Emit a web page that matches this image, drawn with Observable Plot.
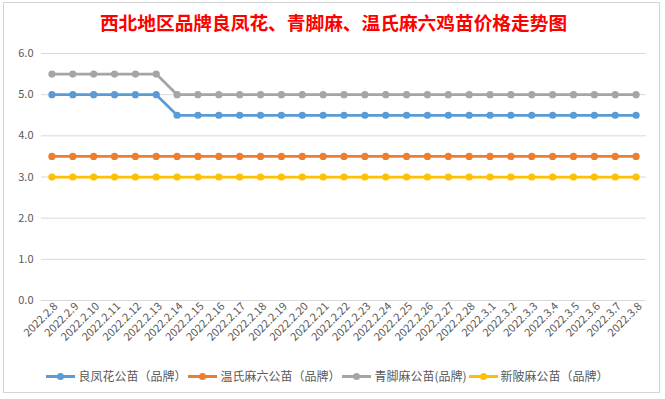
<!DOCTYPE html>
<html>
<head>
<meta charset="utf-8">
<script src="https://cdn.jsdelivr.net/npm/d3@7"></script>
<script src="https://cdn.jsdelivr.net/npm/@observablehq/plot@0.6"></script>
<style>
  html, body { margin: 0; padding: 0; background: #fff; }
  #wrap { position: relative; width: 665px; height: 399px; overflow: hidden; font-family: "Noto Sans CJK SC", "Noto Sans", sans-serif; }
  #frame { position: absolute; left: 3px; top: 2px; width: 657px; height: 391px; border: 1px solid #d4d4d4; box-sizing: border-box; }
  #title { position: absolute; left: 0; width: 667px; top: 9px; text-align: center; color: #ff0000; font-size: 18.7px; font-weight: 700; line-height: 26px; font-family: "Noto Sans CJK SC", sans-serif; }
  #chart { position: absolute; left: 0; top: 0; }
  #legend { position: absolute; left: 0; width: 655px; top: 367px; display: flex; justify-content: center; gap: 2px; font-size: 12px; color: #595959; line-height: 18px; }
  .item { display: flex; align-items: center; gap: 3px; white-space: nowrap; }
  .sw { position: relative; width: 29px; height: 18px; }
  .sw .ln { position: absolute; left: 0; right: 0; top: 7.5px; height: 3px; }
  .sw .dt { position: absolute; left: 11px; top: 5.5px; width: 7px; height: 7px; border-radius: 50%; }
</style>
</head>
<body>
<div id="wrap">
  <div id="frame"></div>
  <div id="chart"></div>
  <div id="title">西北地区品牌良凤花、青脚麻、温氏麻六鸡苗价格走势图</div>
  <div id="legend"></div>
</div>
<script>
const dates = ["2022.2.8","2022.2.9","2022.2.10","2022.2.11","2022.2.12","2022.2.13","2022.2.14","2022.2.15","2022.2.16","2022.2.17","2022.2.18","2022.2.19","2022.2.20","2022.2.21","2022.2.22","2022.2.23","2022.2.24","2022.2.25","2022.2.26","2022.2.27","2022.2.28","2022.3.1","2022.3.2","2022.3.3","2022.3.4","2022.3.5","2022.3.6","2022.3.7","2022.3.8"];
const seriesNames = ["良凤花公苗（品牌）","温氏麻六公苗（品牌）","青脚麻公苗(品牌)","新陂麻公苗（品牌）"];
const seriesColors = ["#5B9BD5","#ED7D31","#A5A5A5","#FFC000"];
const liangfenghua = [5.0,5.0,5.0,5.0,5.0,5.0,4.5,4.5,4.5,4.5,4.5,4.5,4.5,4.5,4.5,4.5,4.5,4.5,4.5,4.5,4.5,4.5,4.5,4.5,4.5,4.5,4.5,4.5,4.5];
const wenshimaliu = [3.5,3.5,3.5,3.5,3.5,3.5,3.5,3.5,3.5,3.5,3.5,3.5,3.5,3.5,3.5,3.5,3.5,3.5,3.5,3.5,3.5,3.5,3.5,3.5,3.5,3.5,3.5,3.5,3.5];
const qingjiaoma = [5.5,5.5,5.5,5.5,5.5,5.5,5.0,5.0,5.0,5.0,5.0,5.0,5.0,5.0,5.0,5.0,5.0,5.0,5.0,5.0,5.0,5.0,5.0,5.0,5.0,5.0,5.0,5.0,5.0];
const xinbeima = [3.0,3.0,3.0,3.0,3.0,3.0,3.0,3.0,3.0,3.0,3.0,3.0,3.0,3.0,3.0,3.0,3.0,3.0,3.0,3.0,3.0,3.0,3.0,3.0,3.0,3.0,3.0,3.0,3.0];
const yTicks = [0,1,2,3,4,5,6];

const allSeries = [liangfenghua, wenshimaliu, qingjiaoma, xinbeima];
const rows = [];
allSeries.forEach((vals, si) => {
  vals.forEach((v, i) => rows.push({date: dates[i], value: v, series: seriesNames[si]}));
});

const chart = Plot.plot({
  width: 665,
  height: 355,
  marginTop: 53,
  marginBottom: 55,
  marginLeft: 41,
  marginRight: 19,
  style: {fontFamily: "'Noto Sans CJK SC', 'Noto Sans', sans-serif", background: "transparent"},
  x: {type: "point", domain: dates, padding: 0.5, round: false},
  y: {domain: [0, 6]},
  color: {domain: seriesNames, range: seriesColors},
  marks: [
    Plot.gridY(yTicks, {stroke: "#d9d9d9", strokeOpacity: 1}),
    Plot.axisY(yTicks, {tickSize: 0, tickPadding: 8, tickFormat: d3.format(".1f"), fontSize: 11, fill: "#595959", label: null}),
    Plot.axisX(dates, {tickSize: 0, tickPadding: 4, tickRotate: -45, fontSize: 11, fill: "#595959", label: null, dx: 4}),
    Plot.line(rows, {x: "date", y: "value", z: "series", stroke: "series", strokeWidth: 2.75}),
    Plot.dot(rows, {x: "date", y: "value", fill: "series", r: 3.6})
  ]
});
document.getElementById("chart").appendChild(chart);

const legend = document.getElementById("legend");
seriesNames.forEach((name, i) => {
  const item = document.createElement("div");
  item.className = "item";
  item.innerHTML = `<div class="sw"><div class="ln" style="background:${seriesColors[i]}"></div><div class="dt" style="background:${seriesColors[i]}"></div></div><span>${name}</span>`;
  legend.appendChild(item);
});
</script>
</body>
</html>
